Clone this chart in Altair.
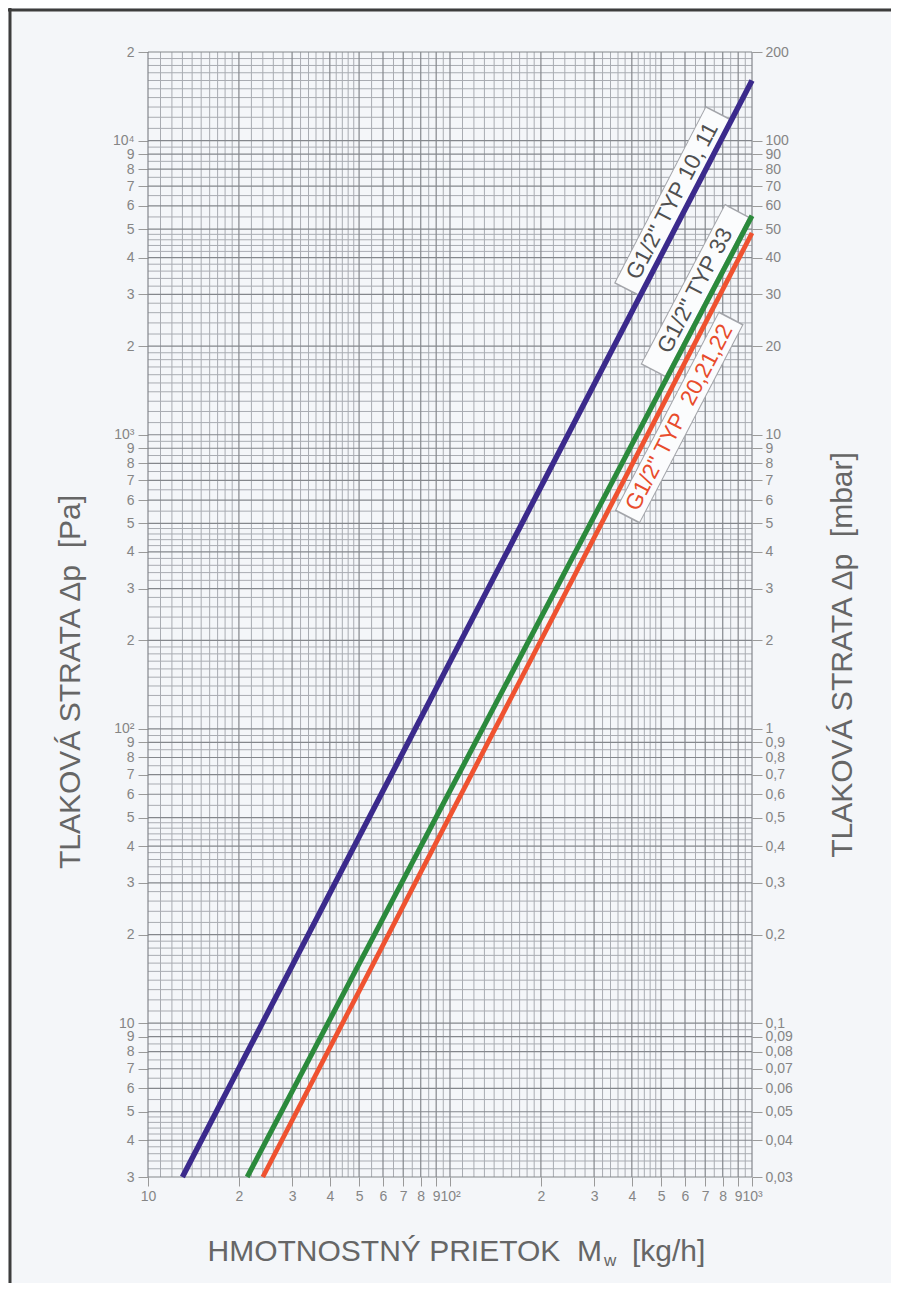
import altair as alt
import pandas as pd

# ---------------- data ----------------
series = ["TYP 10, 11", "TYP 33", "TYP 20,21,22"]
line_colors = ["#3b2a8c", "#2b8a3c", "#ef5230"]
line_widths = [5.5, 4.8, 4.8]
flow_start = [13.0, 21.3, 24.0]        # kg/h at the lower edge (3 Pa)
dp_start = [3.0, 3.0, 3.0]             # Pa
flow_end = [1000.0, 1000.0, 1000.0]    # kg/h
dp_end = [16000.0, 5550.0, 4850.0]     # Pa

label_texts = ['G1/2" TYP 10, 11', 'G1/2" TYP 33', 'G1/2" TYP\u00a0 20,21,22']
label_colors = ["#505050", "#505050", "#e84c2c"]
label_sizes = [22.5, 22.5, 23]
box_flow_lo = [384.0, 470.0, 386.0]
box_dp_lo = [3110.0, 1650.0, 524.0]
box_flow_hi = [773.0, 894.0, 854.0]
box_dp_hi = [12470.0, 5790.0, 2500.0]
label_angle = 297.5

x_ticks = [10, 20, 30, 40, 50, 60, 70, 80, 90, 100, 200, 300, 400, 500, 600,
           700, 800, 900, 1000]
y_ticks = [3, 4, 5, 6, 7, 8, 9, 10, 20, 30, 40, 50, 60, 70, 80, 90, 100, 200,
           300, 400, 500, 600, 700, 800, 900, 1000, 2000, 3000, 4000, 5000,
           6000, 7000, 8000, 9000, 10000, 20000]

# graph-paper subdivisions of one decade
mantissa = [1.0, 1.1, 1.2, 1.3, 1.4, 1.5, 1.6, 1.7, 1.8, 1.9, 2.0, 2.2, 2.4,
            2.6, 2.8, 3.0, 3.2, 3.4, 3.6, 3.8, 4.0, 4.2, 4.4, 4.6, 4.8, 5.0,
            5.5, 6.0, 6.5, 7.0, 7.5, 8.0, 8.5, 9.0, 9.5]
x_decades = [10, 100]
y_decades = [1, 10, 100, 1000, 10000]

x_title = "HMOTNOSTNÝ PRIETOK\u00a0 M"
x_title_sub = "w"
x_title_unit = "[kg/h]"
y_title_left = "TLAKOVÁ STRATA Δp\u00a0 [Pa]"
y_title_right = "TLAKOVÁ STRATA Δp\u00a0 [mbar]"

# ---------------- tables ----------------
gx = [round(m * d, 6) for d in x_decades for m in mantissa] + [1000.0]
gy = [round(m * d, 6) for d in y_decades for m in mantissa]
gy = [v for v in gy if 3 <= v <= 20000] + [20000.0]
gx_minor = pd.DataFrame({"v": [v for v in gx if v not in x_ticks]})
gx_major = pd.DataFrame({"v": x_ticks})
gy_minor = pd.DataFrame({"v": [v for v in gy if v not in y_ticks]})
gy_major = pd.DataFrame({"v": y_ticks})

rows = []
for s, f0, d0, f1, d1 in zip(series, flow_start, dp_start, flow_end, dp_end):
    rows.append({"series": s, "flow": f0, "dp": d0})
    rows.append({"series": s, "flow": f1, "dp": d1})
lines_df = pd.DataFrame(rows)

outer, inner, labels = [], [], []
shrink = 0.008
for t, fl, dl, fh, dh in zip(label_texts, box_flow_lo, box_dp_lo,
                             box_flow_hi, box_dp_hi):
    outer += [{"t": t, "flow": fl, "dp": dl}, {"t": t, "flow": fh, "dp": dh}]
    inner += [{"t": t, "flow": fl * (fh / fl) ** shrink, "dp": dl * (dh / dl) ** shrink},
              {"t": t, "flow": fh * (fl / fh) ** shrink, "dp": dh * (dl / dh) ** shrink}]
    labels.append({"t": t, "flow": (fl * fh) ** 0.5, "dp": (dl * dh) ** 0.5})
outer_df = pd.DataFrame(outer)
inner_df = pd.DataFrame(inner)
labels_df = pd.DataFrame(labels)

one = pd.DataFrame({"k": [0]})

# ---------------- scales ----------------
xs = alt.Scale(type="log", domain=[10, 1000], nice=False)
ys = alt.Scale(type="log", domain=[3, 20000], nice=False)

TICK_FONT = "Liberation Sans Narrow, Liberation Sans"
TITLE_FONT = "Liberation Sans"
LABEL_GRAY = "#858585"
TICK_SIZE = 14

x_label_expr = ("datum.value == 10 ? '10' : datum.value == 100 ? '10²' : "
                "datum.value == 1000 ? '10³' : substring(toString(datum.value), 0, 1)")
y_label_expr = ("datum.value == 10 ? '10' : datum.value == 100 ? '10²' : "
                "datum.value == 1000 ? '10³' : datum.value == 10000 ? '10⁴' : "
                "substring(toString(datum.value), 0, 1)")
mbar_expr = "replace(format(datum.value / 100, '~g'), '.', ',')"

minor_x = alt.Chart(gx_minor).mark_rule(color="#a9acb2", strokeWidth=1).encode(
    x=alt.X("v:Q", scale=xs, axis=None))
minor_y = alt.Chart(gy_minor).mark_rule(color="#a9acb2", strokeWidth=1).encode(
    y=alt.Y("v:Q", scale=ys, axis=None))
major_x = alt.Chart(gx_major).mark_rule(color="#84878c", strokeWidth=1.2).encode(
    x=alt.X("v:Q", scale=xs, axis=alt.Axis(
        orient="bottom", values=x_ticks, labelExpr=x_label_expr, title=None,
        domain=False, grid=False, tickSize=9, tickColor="#9a9a9a", tickWidth=1,
        labelFont=TICK_FONT, labelFontSize=TICK_SIZE, labelColor=LABEL_GRAY,
        labelPadding=3, labelOverlap=False, labelFlush=False, labelBound=False)))
major_y = alt.Chart(gy_major).mark_rule(color="#84878c", strokeWidth=1.2).encode(
    y=alt.Y("v:Q", scale=ys, axis=alt.Axis(
        orient="left", values=y_ticks, labelExpr=y_label_expr, title=None,
        domain=False, grid=False, tickSize=10, tickColor="#9a9a9a", tickWidth=1,
        labelFont=TICK_FONT, labelFontSize=TICK_SIZE, labelColor=LABEL_GRAY,
        labelPadding=4, labelOverlap=False, labelFlush=False, labelBound=False)))
right_axis = alt.Chart(gy_major).mark_rule(opacity=0).encode(
    y=alt.Y("v:Q", scale=ys, axis=alt.Axis(
        orient="right", values=y_ticks, labelExpr=mbar_expr, title=None,
        domain=False, grid=False, tickSize=10, tickColor="#9a9a9a", tickWidth=1,
        labelFont=TICK_FONT, labelFontSize=TICK_SIZE, labelColor=LABEL_GRAY,
        labelPadding=3, labelOverlap=False, labelFlush=False, labelBound=False)))

box_border = alt.Chart(outer_df).mark_line(
    color="#a3a5aa", strokeWidth=28, strokeCap="butt").encode(
    x=alt.X("flow:Q", scale=xs, axis=None),
    y=alt.Y("dp:Q", scale=ys, axis=None),
    detail="t:N")
box_fill = alt.Chart(inner_df).mark_line(
    color="#fbfcfd", strokeWidth=26, strokeCap="butt").encode(
    x=alt.X("flow:Q", scale=xs, axis=None),
    y=alt.Y("dp:Q", scale=ys, axis=None),
    detail="t:N")

lines = alt.Chart(lines_df).mark_line(strokeCap="butt").encode(
    x=alt.X("flow:Q", scale=xs, axis=None),
    y=alt.Y("dp:Q", scale=ys, axis=None),
    color=alt.Color("series:N", scale=alt.Scale(domain=series, range=line_colors), legend=None),
    strokeWidth=alt.StrokeWidth("series:N", scale=alt.Scale(domain=series, range=line_widths), legend=None),
)

label_marks = alt.Chart(labels_df).mark_text(
    angle=label_angle, font=TITLE_FONT, align="center", baseline="middle").encode(
    x=alt.X("flow:Q", scale=xs, axis=None),
    y=alt.Y("dp:Q", scale=ys, axis=None),
    text="t:N",
    fill=alt.Fill("t:N", scale=alt.Scale(domain=label_texts, range=label_colors), legend=None),
    size=alt.Size("t:N", scale=alt.Scale(domain=label_texts, range=label_sizes), legend=None),
)

TITLE_GRAY = "#666666"
t_x = alt.Chart(one).mark_text(font=TITLE_FONT, fontSize=30, color=TITLE_GRAY,
                               align="right", baseline="alphabetic").encode(
    x=alt.value(454), y=alt.value(1209), text=alt.value(x_title))
t_xsub = alt.Chart(one).mark_text(font=TITLE_FONT, fontSize=17, color=TITLE_GRAY,
                                  align="left", baseline="alphabetic").encode(
    x=alt.value(456), y=alt.value(1214), text=alt.value(x_title_sub))
t_xunit = alt.Chart(one).mark_text(font=TITLE_FONT, fontSize=30, color=TITLE_GRAY,
                                   align="left", baseline="alphabetic").encode(
    x=alt.value(484), y=alt.value(1209), text=alt.value(x_title_unit))
t_yl = alt.Chart(one).mark_text(font=TITLE_FONT, fontSize=30, color=TITLE_GRAY,
                                align="center", baseline="middle", angle=270).encode(
    x=alt.value(-77), y=alt.value(630), text=alt.value(y_title_left))
t_yr = alt.Chart(one).mark_text(font=TITLE_FONT, fontSize=30, color=TITLE_GRAY,
                                align="center", baseline="middle", angle=270).encode(
    x=alt.value(695), y=alt.value(603), text=alt.value(y_title_right))

frame_top = alt.Chart(one).mark_rule(color="#3d3d3d", strokeWidth=3).encode(
    x=alt.value(-140), x2=alt.value(743), y=alt.value(-42))
frame_left = alt.Chart(one).mark_rule(color="#3d3d3d", strokeWidth=3).encode(
    x=alt.value(-138), y=alt.value(-44), y2=alt.value(1235))

chart = alt.layer(
    minor_x, minor_y, major_x, major_y, right_axis,
    box_border, box_fill, lines, label_marks,
    t_x, t_xsub, t_xunit, t_yl, t_yr, frame_top, frame_left,
).resolve_axis(x="independent", y="independent").properties(
    width=604, height=1125,
    autosize=alt.AutoSizeParams(type="none"),
    padding={"left": 140, "top": 44, "right": 139, "bottom": 106},
    background="#f4f6f9",
).configure_view(strokeWidth=0)

chart.save("out.html", embed_options={"renderer": "svg", "actions": False})
